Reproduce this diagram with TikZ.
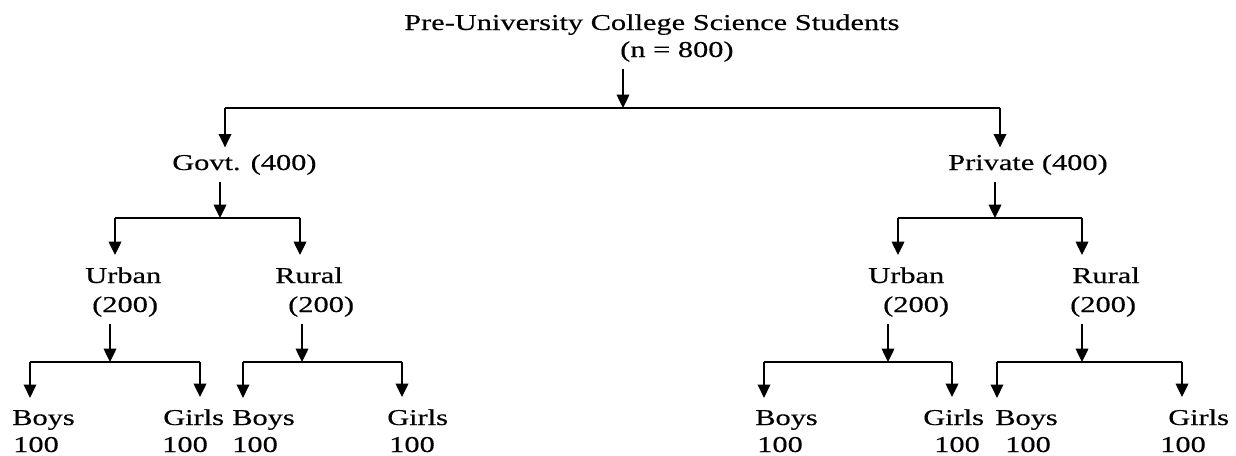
\documentclass[tikz,border=0pt]{standalone}
\usepackage{fontspec}
\setmainfont[FakeStretch=1.34,FakeBold=0.4]{Liberation Serif}
\usetikzlibrary{arrows.meta}

\begin{document}
\begin{tikzpicture}[x=0.75pt,y=-0.75pt,>={Triangle[width=9.5pt,length=10pt]}]

% --- Styles ---
\tikzset{
    lbl/.style={anchor=base west, inner sep=0pt, font=\fontsize{17}{20}\selectfont},
    fork/.style={line width=1pt},
    stem/.style={->, line width=1pt, shorten <=5pt},
    drop/.style={->, line width=1pt, shorten >=#1},
    drop/.default=9pt
}

    \useasboundingbox (0,0) rectangle (1236,455);

    % Totaal
    \node[lbl] (title) at (404,30) {Pre-University College Science Students};
    \node[lbl] (total) at (620,57) {(n = 800)};

    % Govt / Private
    \node[lbl] (govt) at (172,170) {Govt. (400)};
    \node[lbl] (priv) at (948,170) {Private (400)};

    % Urban / Rural
    \node[lbl] (gu)  at (85,283)  {Urban};
    \node[lbl] (gun) at (92,312)  {(200)};
    \node[lbl] (gr)  at (275,283) {Rural};
    \node[lbl] (grn) at (288,312) {(200)};
    \node[lbl] (pu)  at (868,283) {Urban};
    \node[lbl] (pun) at (883,312) {(200)};
    \node[lbl] (pr)  at (1072,283) {Rural};
    \node[lbl] (prn) at (1070,312) {(200)};

    % Boys / Girls
    \node[lbl] (gub)  at (12,425)  {Boys};   \node[lbl] (gubn) at (13,452)  {100};
    \node[lbl] (gug)  at (163,425) {Girls};  \node[lbl] (gugn) at (162,452) {100};
    \node[lbl] (grb)  at (232,425) {Boys};   \node[lbl] (grbn) at (232,452) {100};
    \node[lbl] (grg)  at (387,425) {Girls};  \node[lbl] (grgn) at (389,452) {100};
    \node[lbl] (pub)  at (755,425) {Boys};   \node[lbl] (pubn) at (757,452) {100};
    \node[lbl] (pug)  at (923,425) {Girls};  \node[lbl] (pugn) at (934,452) {100};
    \node[lbl] (prb)  at (995,425) {Boys};   \node[lbl] (prbn) at (1005,452) {100};
    \node[lbl] (prg)  at (1168,425) {Girls}; \node[lbl] (prgn) at (1160,452) {100};

    % junctions
    \coordinate (j0) at (623,108);  \coordinate (j0l) at (225,108); \coordinate (j0r) at (1000,108);
    \coordinate (j1) at (220,218);  \coordinate (j1l) at (115,218); \coordinate (j1r) at (300,218);
    \coordinate (j2) at (995,218);  \coordinate (j2l) at (898,218); \coordinate (j2r) at (1082,218);
    \coordinate (j3) at (110,362);  \coordinate (j3l) at (30,362);  \coordinate (j3r) at (200,362);
    \coordinate (j4) at (302,362);  \coordinate (j4l) at (243,362); \coordinate (j4r) at (402,362);
    \coordinate (j5) at (888,362);  \coordinate (j5l) at (764,362); \coordinate (j5r) at (952,362);
    \coordinate (j6) at (1082,362); \coordinate (j6l) at (997,362); \coordinate (j6r) at (1182,362);

    % first split
    \draw[stem] (j0 |- total.south) -- (j0);
    \draw[fork] (j0l) -- (j0r);
    \draw[drop=5pt] (j0l) -- (j0l |- govt.north);
    \draw[drop=5pt] (j0r) -- (j0r |- priv.north);

    % other splits
    \foreach \j/\p/\a/\b in {j1/govt/gu/gr, j2/priv/pu/pr, j3/gun/gub/gug,
                             j4/grn/grb/grg, j5/pun/pub/pug, j6/prn/prb/prg} {
        \draw[stem] (\j |- \p.south) -- (\j);
        \draw[fork] (\j l) -- (\j r);
        \draw[drop] (\j l) -- (\j l |- \a.north);
        \draw[drop] (\j r) -- (\j r |- \b.north);
    }

\end{tikzpicture}
\end{document}
